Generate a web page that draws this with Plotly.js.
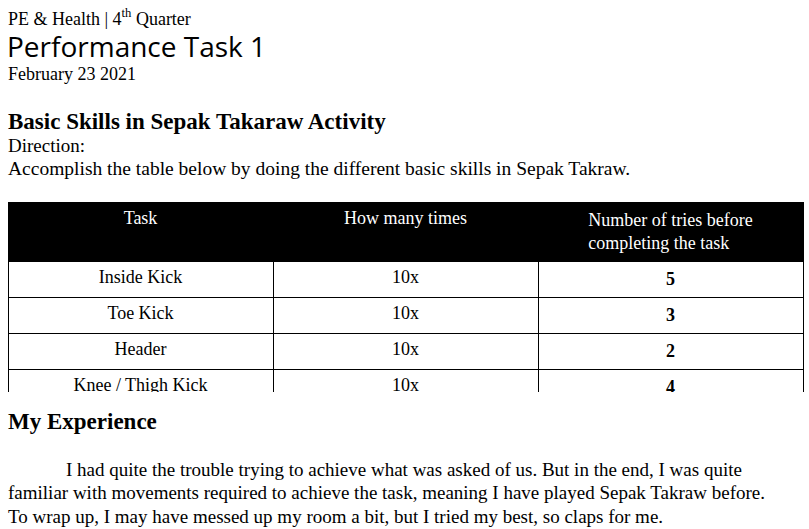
<!DOCTYPE html>
<html>
<head>
<meta charset="utf-8">
<script src="https://cdn.plot.ly/plotly-3.0.1.min.js"></script>
<style>body{margin:0;background:#fff}</style>
</head>
<body>
<div id="chart" style="width:809px;height:529px"></div>
<script>
"use strict"
const W = 809, H = 529
const headers = ["Task", "How many times", "Number of tries before<br>completing the task"]
const tasks = ["Inside Kick", "Toe Kick", "Header", "Knee / Thigh Kick"]
const times = ["10x", "10x", "10x", "10x"]
const tries = ["<b>5</b>", "<b>3</b>", "<b>2</b>", "<b>4</b>"]

const serif = "Liberation Serif, serif"
const py = p => 1 - p / H
const px = p => p / W

const text = (x, y, t, size, family) => ({
  x: px(x), y: py(y), xref: "paper", yref: "paper",
  xanchor: "left", yanchor: "middle", showarrow: false,
  text: t, font: {family: family || serif, size: size, color: "#000"}
})

const annotations = [
  text(6, 18, "PE &amp; Health | 4<sup>th</sup> Quarter", 18),
  text(5, 46, "Performance Task 1", 28, "Open Sans, sans-serif"),
  text(6, 74, "February 23 2021", 18),
  text(6, 122, "<b>Basic Skills in Sepak Takaraw Activity</b>", 23),
  text(6, 146, "Direction:", 19),
  text(6, 169, "Accomplish the table below by doing the different basic skills in Sepak Takraw.", 19.5),
  text(6, 421, "<b>My Experience</b>", 23),
  text(64, 469, "I had quite the trouble trying to achieve what was asked of us. But in the end, I was quite", 19),
  text(6, 492, "familiar with movements required to achieve the task, meaning I have played Sepak Takraw before.", 19),
  text(6, 516, "To wrap up, I may have messed up my room a bit, but I tried my best, so claps for me.", 19),
]

const trace = {
  type: "table",
  domain: {x: [px(8), px(803)], y: [py(392), py(202)]},
  columnwidth: [1, 1, 1],
  header: {
    values: headers,
    height: 56,
    align: "center",
    fill: {color: "#000"},
    line: {color: "#000", width: 1},
    font: {family: serif, size: 18, color: "#fff"}
  },
  cells: {
    values: [tasks, times, tries],
    height: 32,
    align: "center",
    fill: {color: "#fff"},
    line: {color: "#000", width: 1},
    font: {family: serif, size: 18, color: "#000"}
  }
}

Plotly.newPlot("chart", [trace], {
  width: W, height: H,
  margin: {l: 0, r: 0, t: 0, b: 0},
  paper_bgcolor: "#fff",
  annotations: annotations
}, {displayModeBar: false})
</script>
</body>
</html>
